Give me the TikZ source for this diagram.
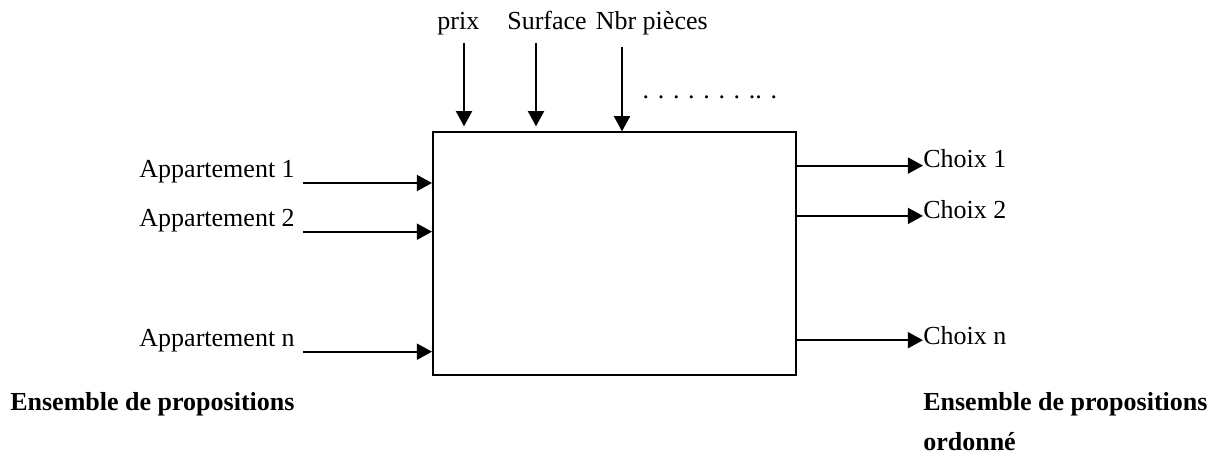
\documentclass[tikz,border=0pt]{standalone}
\usepackage{fontspec}
\setmainfont{Liberation Serif}
\usetikzlibrary{positioning}
\usetikzlibrary{arrows.meta}
\tikzset{every picture/.style={
    every node/.style={font=\fontsize{18.5}{22}\selectfont, inner sep=0},
}}
\tikzset{arr/.style = {line width=1.5pt, -{Triangle[length=0.38cm, width=0.4cm]}}}
\tikzset{bold/.style = {font=\fontsize{18.5}{22}\selectfont\bfseries}}

\begin{document}
\begin{tikzpicture}
    \useasboundingbox (0,0) rectangle (30.725,11.375);
    \node[draw, line width=1.2pt, minimum width=9.075cm, minimum height=6.075cm, anchor=south west] (box) at (10.8,1.975) {};

    % entrees du haut
    \node[anchor=base] (prix) at (11.46,10.625) {prix};
    \node[anchor=base west] (surf) at (12.675,10.625) {Surface};
    \node[anchor=base east] (nbr) at (17.7,10.625) {Nbr pi\`eces};
    \node[anchor=base west] (dots) at (16.06,8.92) {. . . . . . . .. .};
    \coordinate (prixin) at (11.6,10.3);
    \coordinate (surfin) at (13.4,10.3);
    \coordinate (nbrin) at (15.55,10.21);
    \draw[arr, shorten >=0.125cm] (prixin) -- (prixin |- box.north);
    \draw[arr, shorten >=0.125cm] (surfin) -- (surfin |- box.north);
    \draw[arr] (nbrin) -- (nbrin |- box.north);

    % propositions
    \node[anchor=base east] (a1) at (7.375,6.925) {Appartement 1};
    \node[anchor=base east] (a2) at (7.375,5.708) {Appartement 2};
    \node[anchor=base east] (an) at (7.375,2.708) {Appartement n};
    \coordinate (a1out) at ([xshift=0.2cm, yshift=-0.125cm]a1.base east);
    \coordinate (a2out) at ([xshift=0.2cm, yshift=-0.125cm]a2.base east);
    \coordinate (anout) at ([xshift=0.2cm, yshift=-0.125cm]an.base east);
    \draw[arr] (a1out) -- (box.west |- a1out);
    \draw[arr] (a2out) -- (box.west |- a2out);
    \draw[arr] (anout) -- (box.west |- anout);

    % choix
    \node[anchor=base west] (c1) at (23.075,7.175) {Choix 1};
    \node[anchor=base west] (c2) at (23.075,5.917) {Choix 2};
    \node[anchor=base west] (cn) at (23.075,2.75) {Choix n};
    \coordinate (c1in) at ([yshift=0.06cm]c1.base west);
    \coordinate (c2in) at ([yshift=0.06cm]c2.base west);
    \coordinate (cnin) at ([yshift=0.12cm]cn.base west);
    \draw[arr] (box.east |- c1in) -- (c1in);
    \draw[arr] (box.east |- c2in) -- (c2in);
    \draw[arr] (box.east |- cnin) -- (cnin);

    \node[bold, anchor=base west] (ens1) at (0.25,1.125) {Ensemble de propositions};
    \node[bold, anchor=base west] (ens2) at (23.075,1.125) {Ensemble de propositions};
    \node[bold, anchor=base west] (ord) at (23.075,0.125) {ordonn\'e};
\end{tikzpicture}
\end{document}
